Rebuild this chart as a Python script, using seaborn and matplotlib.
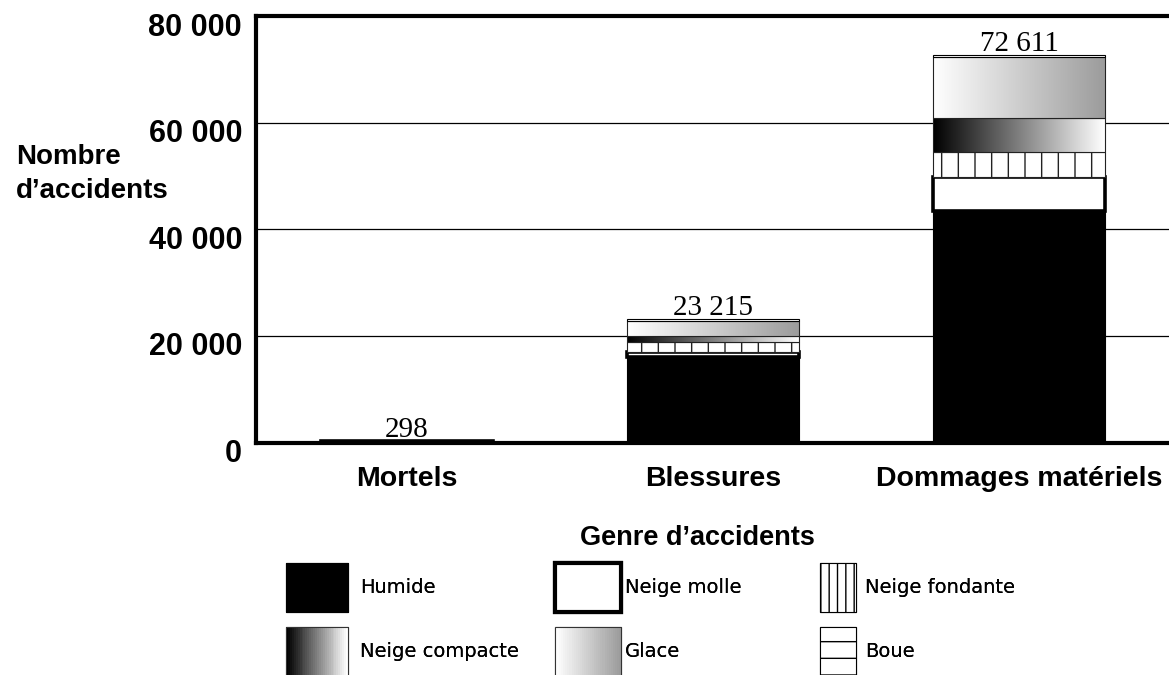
import numpy as np
import matplotlib
matplotlib.use("Agg")
import matplotlib.pyplot as plt
import matplotlib.transforms as mtransforms
import seaborn as sns
from matplotlib.patches import Rectangle, Patch
from matplotlib.legend_handler import HandlerBase, HandlerPatch
from matplotlib.colors import LinearSegmentedColormap

# Accidents by type, split by road-surface condition
categories = ["Mortels", "Blessures", "Dommages matériels"]
humide = [180, 16100, 43470]
neige_molle = [30, 900, 6380]
neige_fondante = [25, 1900, 4700]
neige_compacte = [20, 1100, 6390]
glace = [38, 2800, 11420]
boue = [5, 415, 251]

y_ticks = [0, 20000, 40000, 60000, 80000]
y_tick_labels = ["0", "20 000", "40 000", "60 000", "80 000"]

sns.set_style("white")
plt.rcParams["font.family"] = ["Liberation Sans", "DejaVu Sans"]
plt.rcParams["hatch.linewidth"] = 1.0
for key in ["text.color", "axes.labelcolor", "xtick.color", "ytick.color"]:
    plt.rcParams[key] = "black"

W, H = 1169, 675
fig = plt.figure(figsize=(W / 100, H / 100), dpi=100)
ax = fig.add_axes([256 / W, 1 - 442.5 / H, 1 - 256 / W, (442.5 - 16) / H])

cmap_compacte = LinearSegmentedColormap.from_list("compacte", ["#000000", "#ffffff"])
cmap_glace = LinearSegmentedColormap.from_list("glace", ["#ffffff", "#9c9c9c"])

layers = [
    ("Humide", humide, dict(facecolor="black", edgecolor="black", linewidth=0.8), None),
    ("Neige molle", neige_molle, dict(facecolor="white", edgecolor="black", linewidth=2.6), None),
    ("Neige fondante", neige_fondante,
     dict(facecolor="white", edgecolor="#222222", linewidth=0.8, hatch="|"), None),
    ("Neige compacte", neige_compacte,
     dict(facecolor="none", edgecolor="#222222", linewidth=0.8), cmap_compacte),
    ("Glace", glace, dict(facecolor="none", edgecolor="#222222", linewidth=0.8), cmap_glace),
    ("Boue", boue, dict(facecolor="white", edgecolor="black", linewidth=0.8, hatch="-"), None),
]

gradient = np.linspace(0, 1, 256)[None, :]
bottom = np.zeros(len(categories))
top_bars = []
for i, (name, vals, style, cmap) in enumerate(layers):
    n0 = len(ax.patches)
    sns.barplot(x=categories, y=vals, bottom=bottom.copy(), width=0.56, errorbar=None,
                color="white", saturation=1, ax=ax, zorder=3 + i)
    bars = ax.patches[n0:]
    for bar in bars:
        bar.set(**style)
        if cmap is not None:
            x0, y0 = bar.get_x(), bar.get_y()
            w, h = bar.get_width(), bar.get_height()
            im = ax.imshow(gradient, cmap=cmap, extent=[x0, x0 + w, y0, y0 + h],
                           aspect="auto", interpolation="bilinear", zorder=3 + i - 0.1)
            im.set_clip_path(bar)
    bottom = bottom + np.asarray(vals)
    top_bars = bars

# Totals above each stack
for bar, total in zip(top_bars, bottom):
    cx = bar.get_x() + bar.get_width() / 2
    ax.annotate(f"{int(total):,}".replace(",", " "), xy=(cx, total), xytext=(0, 3),
                textcoords="offset points", ha="center", va="baseline",
                fontsize=21, family=["Liberation Serif"], zorder=2)

ax.set_xlim(-0.493, 2.49)
ax.set_ylim(0, 80000)
ax.set_xlabel("")
ax.set_ylabel("")

ax.set_axisbelow(True)
ax.yaxis.grid(True, color="black", linewidth=0.9)
ax.xaxis.grid(False)

for s in ["left", "top", "bottom"]:
    ax.spines[s].set_linewidth(3)
    ax.spines[s].set_color("black")
    ax.spines[s].set_zorder(20)
ax.spines["right"].set_visible(False)

ax.set_xticks(range(len(categories)), labels=categories, fontsize=20.5, fontweight="bold")
ax.set_yticks(y_ticks, labels=y_tick_labels, fontsize=22, fontweight="bold")
ax.tick_params(axis="y", length=0, pad=10)
ax.tick_params(axis="x", length=0, pad=17)

shift = mtransforms.ScaledTranslation(0, -0.08, fig.dpi_scale_trans)
for lab in ax.get_yticklabels():
    lab.set_transform(lab.get_transform() + shift)

fig.text(16 / W, 1 - 174 / H, "Nombre\nd’accidents", ha="left", va="center",
         fontsize=20, fontweight="bold", linespacing=1.35)
fig.text(697 / W, 1 - 545 / H, "Genre d’accidents", ha="center", va="baseline",
         fontsize=19.5, fontweight="bold")


class GradientHandler(HandlerBase):
    def __init__(self, cmap, steps=32):
        super().__init__(xpad=0.0, ypad=0.0)
        self.cmap = cmap
        self.steps = steps

    def create_artists(self, legend, orig_handle, xdescent, ydescent, width, height,
                       fontsize, trans):
        arts = []
        for k in range(self.steps):
            arts.append(Rectangle((-xdescent + width * k / self.steps, -ydescent),
                                  width / self.steps + 0.3, height,
                                  facecolor=self.cmap(k / (self.steps - 1)),
                                  edgecolor="none", transform=trans))
        arts.append(Rectangle((-xdescent, -ydescent), width, height, fill=False,
                              edgecolor="#333333", linewidth=0.8, transform=trans))
        return arts


h_humide = Patch(facecolor="black", edgecolor="black", linewidth=0.8)
h_molle = Patch(facecolor="white", edgecolor="black", linewidth=3, joinstyle="round")
h_fondante = Patch(facecolor="white", edgecolor="black", linewidth=0.8, hatch="||")
h_compacte = Patch(facecolor="white")
h_glace = Patch(facecolor="white")
h_boue = Patch(facecolor="white", edgecolor="black", linewidth=0.8, hatch="-")
handler_map = {
    Patch: HandlerPatch(xpad=0.0, ypad=0.0),
    h_compacte: GradientHandler(cmap_compacte),
    h_glace: GradientHandler(cmap_glace),
}

# Legend swatches: 49 px tall, rows 64 px apart, first row top at 563 px
leg_fs = 14
em = leg_fs * 100 / 72
hh = (49 / em - 0.245) / 0.65
columns = [
    ([h_humide, h_compacte], ["Humide", "Neige compacte"], 286, 62, 12),
    ([h_molle, h_glace], ["Neige molle", "Glace"], 555, 66, 4),
    ([h_fondante, h_boue], ["Neige fondante", "Boue"], 820, 36, 9),
]
for handles, labels, x_px, hw_px, pad_px in columns:
    lg = fig.legend(handles, labels, loc="upper left",
                    bbox_to_anchor=(x_px / W, 1 - 563 / H),
                    bbox_transform=fig.transFigure,
                    frameon=False, borderpad=0, borderaxespad=0,
                    prop={"family": ["DejaVu Sans"], "size": leg_fs},
                    handlelength=hw_px / em, handleheight=hh,
                    labelspacing=(64 - 49) / em, handletextpad=pad_px / em,
                    handler_map=handler_map)
    fig.add_artist(lg)

fig.savefig("out.png", dpi=100, facecolor="white")
